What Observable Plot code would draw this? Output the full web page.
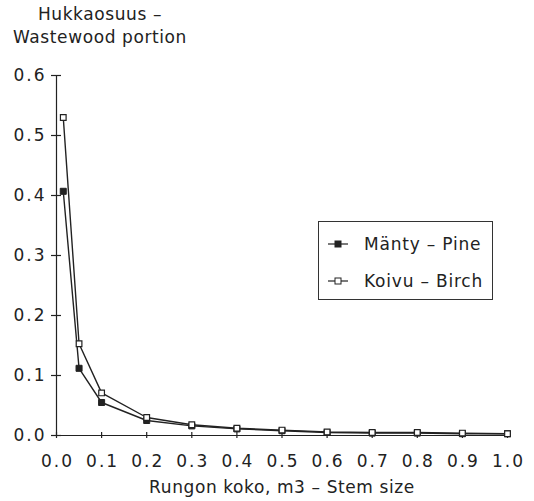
<!DOCTYPE html>
<html>
<head>
<meta charset="utf-8">
<script src="https://cdn.jsdelivr.net/npm/d3@7"></script>
<script src="https://cdn.jsdelivr.net/npm/@observablehq/plot@0.6"></script>
<style>
  body { margin: 0; background: #fff; }
  #wrap { position: relative; width: 534px; height: 501px; font-family: "DejaVu Sans", sans-serif; color: #222; }
  #title { width: 200px; text-align: center; font-size: 17px; letter-spacing: 0.6px; line-height: 23px; padding-top: 3px; height: 47px; }
  #legend { position: absolute; left: 318px; top: 221px; width: 175px; height: 79px; border: 1px solid #333; box-sizing: border-box; background: #fff; font-size: 17px; letter-spacing: 0.8px; }
  .row { position: absolute; left: 0; height: 20px; display: flex; align-items: center; }
  .row svg { margin-left: 9px; margin-right: 16px; }
  g[aria-label="x-axis tick label"] text, g[aria-label="y-axis tick label"] text { letter-spacing: 2px; }
  g[aria-label="text"] text { letter-spacing: 0.6px; }
</style>
</head>
<body>
<div id="wrap">
  <div id="title">Hukkaosuus –<br>Wastewood portion</div>
  <div id="chart"></div>
  <div id="legend"></div>
</div>
<script>
// Stem size (m3) and wastewood portion for each species
const stemSize = [0.015, 0.05, 0.1, 0.2, 0.3, 0.4, 0.5, 0.6, 0.7, 0.8, 0.9, 1.0];
const pine  = [0.407, 0.112, 0.055, 0.025, 0.016, 0.011, 0.008, 0.005, 0.004, 0.004, 0.003, 0.003];
const birch = [0.530, 0.153, 0.071, 0.030, 0.018, 0.012, 0.009, 0.006, 0.005, 0.005, 0.004, 0.003];

const seriesNames = ["Mänty - Pine", "Koivu - Birch"];
const xTicks = [0, 0.1, 0.2, 0.3, 0.4, 0.5, 0.6, 0.7, 0.8, 0.9, 1.0];
const yTicks = [0, 0.1, 0.2, 0.3, 0.4, 0.5, 0.6];
const xTitle = "Rungon koko, m3 – Stem size";

const ink = "#222";
const pineRows = stemSize.map((x, i) => ({x, y: pine[i]}));
const birchRows = stemSize.map((x, i) => ({x, y: birch[i]}));

const chart = Plot.plot({
  width: 534,
  height: 451,
  marginLeft: 56,
  marginRight: 27,
  marginTop: 25,
  marginBottom: 66,
  style: {fontFamily: "DejaVu Sans, sans-serif", fontSize: "16px", color: ink, background: "#fff"},
  x: {domain: [0, 1]},
  y: {domain: [0, 0.6]},
  marks: [
    // axis lines
    Plot.ruleX([0], {y1: 0, y2: 0.6, stroke: ink, strokeWidth: 1.2}),
    Plot.ruleY([0], {x1: 0, x2: 1, stroke: ink, strokeWidth: 1.2}),
    // cross ticks straddling the axes
    Plot.ruleY(yTicks, {y: d => d, x1: 0, x2: 0, insetLeft: -5, insetRight: -5, stroke: ink, strokeWidth: 1.2}),
    Plot.ruleX(xTicks, {x: d => d, y1: 0, y2: 0, insetTop: -3, insetBottom: -3, stroke: ink, strokeWidth: 1.2}),
    Plot.axisX(xTicks, {tickSize: 0, tickPadding: 19, tickFormat: d3.format(".1f"), label: null, fontSize: 17, dx: 1}),
    Plot.axisY(yTicks, {tickSize: 0, tickPadding: 10, tickFormat: d3.format(".1f"), label: null, fontSize: 17}),
    Plot.text([xTitle], {frameAnchor: "bottom", dy: 57, fontSize: 17}),
    // series
    Plot.line(pineRows, {x: "x", y: "y", stroke: ink, strokeWidth: 1.4}),
    Plot.line(birchRows, {x: "x", y: "y", stroke: ink, strokeWidth: 1.4}),
    Plot.dot(pineRows, {x: "x", y: "y", symbol: "square", r: 3.4, fill: ink, stroke: ink, strokeWidth: 1}),
    Plot.dot(birchRows, {x: "x", y: "y", symbol: "square", r: 3.2, fill: "#fff", stroke: ink, strokeWidth: 1.2})
  ]
});
document.getElementById("chart").appendChild(chart);

// legend entries
const legend = document.getElementById("legend");
const rowTops = [12, 49];
seriesNames.forEach((name, i) => {
  const row = document.createElement("div");
  row.className = "row";
  row.style.top = rowTops[i] + "px";
  const fill = i === 0 ? ink : "#fff";
  row.innerHTML = `<svg width="20" height="10"><line x1="0" y1="5" x2="20" y2="5" stroke="${ink}" stroke-width="1.2"/><rect x="7" y="2" width="6" height="6" fill="${fill}" stroke="${ink}" stroke-width="1"/></svg><span>${name.replace("-", "–")}</span>`;
  legend.appendChild(row);
});
</script>
</body>
</html>
